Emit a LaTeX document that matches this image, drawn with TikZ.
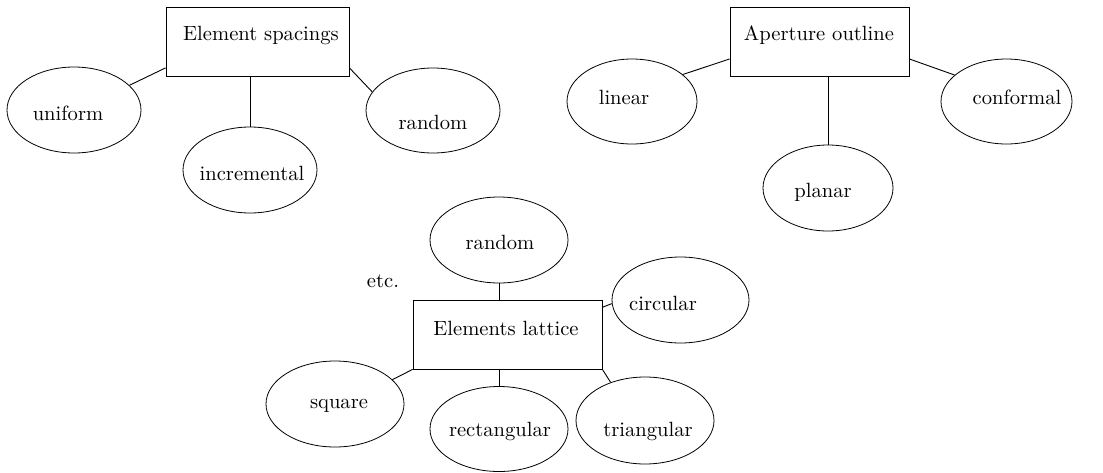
\documentclass[tikz,border=0pt]{standalone}
\usetikzlibrary{shapes.geometric}
\tikzset{
  every node/.style={font=\fontsize{10.3}{12.4}\selectfont},
  every label/.style={font=\fontsize{10.3}{12.4}\selectfont},
  topic/.style={draw, rectangle, inner sep=0pt, minimum height=34.5pt},
  oval/.style={draw, ellipse, inner sep=0pt, minimum width=67pt, minimum height=43pt},
  link/.style={draw, line width=0.45pt}
}
\begin{document}
\begin{tikzpicture}[x=0.5pt, y=-0.5pt]
\useasboundingbox (0,0) rectangle (1103,472);

% --- Element spacings ---
\node[topic, minimum width=91.5pt, label={[xshift=1.75pt, yshift=3.25pt]center:Element spacings}] (es) at (257.5,41.5) {};
\node[oval, label={[xshift=-3pt, yshift=-1.5pt]center:uniform}] (uni) at (74,110) {};
\node[oval, label={[xshift=1pt, yshift=-1.5pt]center:incremental}] (inc) at (250,170) {};
\node[oval, minimum height=42.5pt, label={[yshift=-5.75pt]center:random}] (rnda) at (433,110.5) {};

% --- Aperture outline ---
\node[topic, minimum width=89.5pt, label={[xshift=-0.25pt, yshift=3.25pt]center:Aperture outline}] (ao) at (819.5,41.5) {};
\node[oval, minimum width=65pt, minimum height=42.5pt, label={[xshift=-4pt, yshift=2.25pt]center:linear}] (lin) at (632,101.5) {};
\node[oval, minimum width=65pt, label={[xshift=-2.5pt, yshift=-2pt]center:planar}] (pla) at (828,188) {};
\node[oval, minimum width=65.5pt, minimum height=42.5pt, label={[xshift=5.25pt, yshift=2.25pt]center:conformal}] (con) at (1006.5,101.5) {};

% --- Elements lattice ---
\node[topic, minimum width=94.5pt, label={[xshift=-0.75pt, yshift=3.25pt]center:Elements lattice}] (el) at (507.5,334.5) {};
\node[oval, minimum width=69pt, label={[xshift=0.5pt, yshift=-1pt]center:random}] (rndb) at (499,240) {};
\node[oval, minimum width=68.5pt, label={[xshift=-8.75pt, yshift=-1.5pt]center:circular}] (cir) at (680.5,300) {};
\node[oval, minimum width=69pt, label={[xshift=2pt, yshift=-1pt]center:square}] (squ) at (335,404) {};
\node[oval, minimum width=69pt, minimum height=42.5pt, label={[xshift=0.5pt, yshift=-1pt]center:rectangular}] (rec) at (499,429) {};
\node[oval, minimum width=69pt, minimum height=43.5pt, label={[xshift=1.5pt, yshift=-5.25pt]center:triangular}] (tri) at (645,420.5) {};
\node (etc) at (383,281) {etc.};

% --- connectors ---
\draw[link] (es.196) -- (uni.24);
\draw[link] (inc.north) -- (inc.north |- es.south);
\draw[link] (es.344) -- (rnda.163);

\draw[link] (ao.191) -- (lin.28);
\draw[link] (pla.north) -- (pla.north |- ao.south);
\draw[link] (ao.349) -- (con.153);

\draw[link] (rndb.south) -- (rndb.south |- el.north);
\draw[link] (el.16) -- (cir.183);
\draw[link] (el.south west) -- (squ.23);
\draw[link] (rec.north) -- (rec.north |- el.south);
\draw[link] (el.south east) -- (tri.132);
\end{tikzpicture}
\end{document}
